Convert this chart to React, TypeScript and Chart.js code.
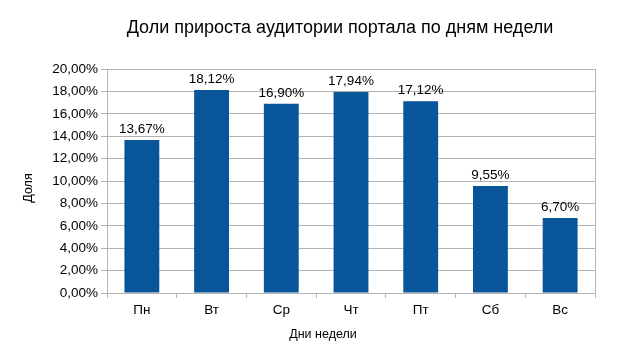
import React, { useEffect, useRef } from "react";
import { Chart, registerables } from "chart.js";

Chart.register(...registerables);

const categories = ["Пн", "Вт", "Ср", "Чт", "Пт", "Сб", "Вс"];
const shares = [13.67, 18.12, 16.9, 17.94, 17.12, 9.55, 6.7];
const chartTitle = "Доли прироста аудитории портала по дням недели";
const xTitle = "Дни недели";
const yTitle = "Доля";

const FONT = "'Liberation Sans', Arial, sans-serif";
const fmt = (v: number) => v.toFixed(2).replace(".", ",") + "%";

export default function App() {
  const ref = useRef<HTMLCanvasElement | null>(null);
  useEffect(() => {
    document.body.style.margin = "0";
    const labelsPlugin = {
      id: "extras",
      afterDraw(chart: any) {
        const ctx = chart.ctx;
        const area = chart.chartArea;
        ctx.save();
        // right border
        ctx.strokeStyle = "#b3b3b3";
        ctx.lineWidth = 1;
        ctx.beginPath();
        ctx.moveTo(Math.round(area.right) + 0.5, area.top);
        ctx.lineTo(Math.round(area.right) + 0.5, area.bottom);
        ctx.stroke();
        // data labels
        ctx.fillStyle = "#000";
        ctx.font = `13.5px ${FONT}`;
        ctx.textAlign = "center";
        ctx.textBaseline = "bottom";
        const meta = chart.getDatasetMeta(0);
        meta.data.forEach((bar: any, i: number) => {
          ctx.fillText(fmt(shares[i]), bar.x, bar.y - 4);
        });
        // titles
        ctx.font = `18px ${FONT}`;
        ctx.textBaseline = "middle";
        ctx.fillText(chartTitle, 340, 28);
        ctx.font = `12.5px ${FONT}`;
        ctx.fillText(xTitle, 323, 335);
        ctx.translate(29, 188);
        ctx.rotate(-Math.PI / 2);
        ctx.fillText(yTitle, 0, 0);
        ctx.restore();
      },
    };
    const chart = new Chart(ref.current!, {
      type: "bar",
      data: {
        labels: categories,
        datasets: [
          {
            data: shares,
            backgroundColor: "#08559a",
            borderWidth: 0,
            barPercentage: 0.5,
            categoryPercentage: 1,
          },
        ],
      },
      options: {
        animation: false,
        responsive: false,
        layout: { padding: { top: 69, right: 25, left: 0, bottom: 0 } },
        plugins: { legend: { display: false }, tooltip: { enabled: false }, title: { display: false } },
        scales: {
          x: {
            afterFit: (s: any) => {
              s.height = 64;
            },
            grid: {
              drawOnChartArea: false,
              drawTicks: true,
              tickLength: 5,
              color: "#b3b3b3",
              offset: true,
            },
            border: { color: "#b3b3b3" },
            ticks: { color: "#000", font: { family: FONT, size: 13.5 }, padding: 4 },
          },
          y: {
            min: 0,
            max: 20,
            afterFit: (s: any) => {
              s.width = 107;
            },
            grid: { color: "#b3b3b3", tickLength: 6 },
            border: { color: "#b3b3b3" },
            ticks: {
              stepSize: 2,
              color: "#000",
              font: { family: FONT, size: 13.5 },
              padding: 3,
              callback: (v: any) => fmt(Number(v)),
            },
          },
        },
      },
      plugins: [labelsPlugin],
    });
    return () => chart.destroy();
  }, []);
  return (
    <div style={{ position: "absolute", left: 0, top: 0, width: 620, height: 357, background: "#fff" }}>
      <canvas ref={ref} width={620} height={357} style={{ width: 620, height: 357 }} />
    </div>
  );
}
